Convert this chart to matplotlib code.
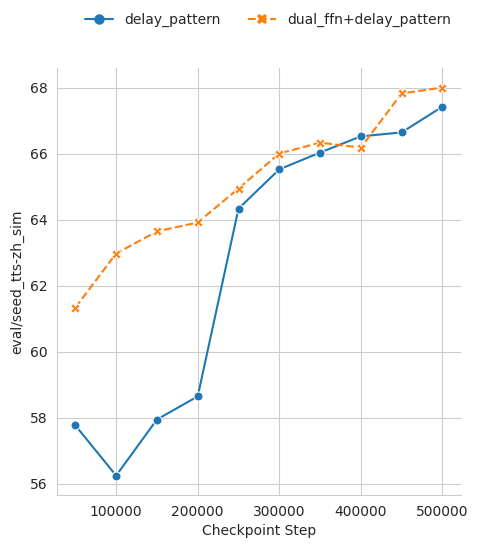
import matplotlib
matplotlib.use("Agg")
import matplotlib.pyplot as plt
from matplotlib.lines import Line2D
import seaborn as sns

steps = [50000, 100000, 150000, 200000, 250000, 300000, 350000, 400000, 450000, 500000]
delay_pattern = [57.76, 56.24, 57.94, 58.64, 64.33, 65.52, 66.03, 66.52, 66.64, 67.42]
dual_ffn = [61.33, 62.97, 63.64, 63.91, 64.94, 66.00, 66.33, 66.18, 67.82, 68.00]

sns.set_style("whitegrid")
pal = sns.color_palette()
dash = (0, (3.7, 1.6))

fig = plt.figure(figsize=(4.79, 5.48), dpi=100)
ax = fig.add_axes([0.119, 0.0967, 0.843, 0.779])

ax.plot(steps, delay_pattern, color=pal[0], marker="o", markersize=6.5,
        markeredgecolor="white", markeredgewidth=0.75, linewidth=1.5)
ax.plot(steps, dual_ffn, color=pal[1], marker="X", markersize=6.5,
        markeredgecolor="white", markeredgewidth=0.75, linewidth=1.5,
        linestyle=dash)

ax.set_xticks([100000, 200000, 300000, 400000, 500000])
ax.set_xlabel("Checkpoint Step")
ax.set_ylabel("eval/seed_tts-zh_sim")
sns.despine(ax=ax)

handles = [
    Line2D([], [], color=pal[0], marker="o", markersize=7.5, linewidth=1.5,
           markeredgewidth=0),
    Line2D([], [], color=pal[1], marker="X", markersize=7.5, linewidth=1.5,
           markeredgewidth=0, linestyle=dash),
]
fig.legend(handles, ["delay_pattern", "dual_ffn+delay_pattern"],
           loc="upper center", bbox_to_anchor=(0.56, 1.0), ncol=2, frameon=False)

fig.savefig("out.png", dpi=100)
